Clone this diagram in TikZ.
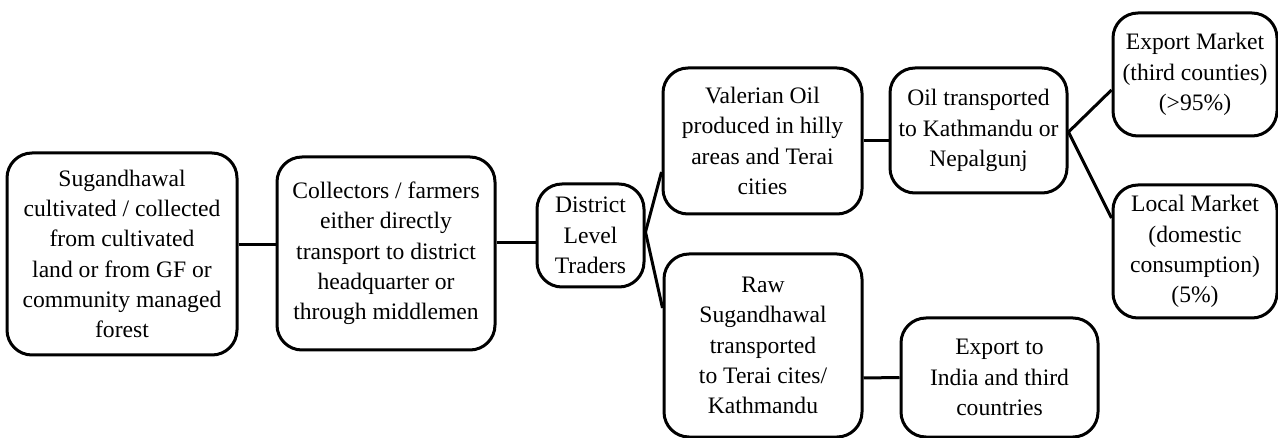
\documentclass[tikz,border=0pt]{standalone}
\usepackage{fontspec}
\setmainfont{Liberation Serif}
\begin{document}
\begin{tikzpicture}[x=1pt,y=-1pt,
  box/.style={draw, line width=3pt, rounded corners=25pt, align=center, inner sep=0pt,
    font=\fontsize{23.6}{30.3}\selectfont},
  link/.style={line width=3pt}]
\useasboundingbox (0,0) rectangle (1278,438);
\node[box, minimum width=230pt, minimum height=202pt] (sug) at (122,254)
  {Sugandhawal\\cultivated / collected\\from cultivated\\land or from GF or\\community managed\\forest};
\node[box, minimum width=218pt, minimum height=193pt] (col) at (386,253.5)
  {Collectors / farmers\\either directly\\transport to district\\headquarter or\\through middlemen};
\node[box, minimum width=107pt, minimum height=103pt] (dist) at (590.5,235.5)
  {District\\Level\\Traders};
\node[box, minimum width=199pt, minimum height=146pt] (val) at (762.5,141)
  {Valerian Oil\\produced in hilly\\areas and Terai\\cities};
\node[box, minimum width=198pt, minimum height=183pt] (raw) at (763,345.5)
  {Raw\\Sugandhawal\\transported\\to Terai cites/\\Kathmandu};
\node[box, minimum width=177pt, minimum height=125pt] (oil) at (978.5,130.5)
  {Oil transported\\to Kathmandu or\\Nepalgunj};
\node[box, minimum width=164pt, minimum height=123pt] (exp) at (1195,74.5)
  {Export Market\\(third counties)\\(>95\%)};
\node[box, minimum width=164pt, minimum height=133pt] (loc) at (1195,251.5)
  {Local Market\\(domestic\\consumption)\\(5\%)};
\node[box, minimum width=197pt, minimum height=119pt] (india) at (999.5,377.5)
  {Export to\\India and third\\countries};
\draw[link] ([yshift=9pt]sug.east) -- ([yshift=8.5pt]col.west);
\draw[link] ([yshift=10.5pt]col.east) -- ([yshift=-7.5pt]dist.west);
\draw[link] ([yshift=3.5pt]dist.east) -- ([yshift=-31pt]val.west);
\draw[link] ([yshift=3.5pt]dist.east) -- ([yshift=37.5pt]raw.west);
\draw[link] (val.east) -- ([yshift=-10.5pt]oil.west);
\draw[link] ([yshift=-1.5pt]oil.east) -- ([yshift=-15.5pt]exp.west);
\draw[link] ([yshift=-1.5pt]oil.east) -- ([yshift=33.5pt]loc.west);
\draw[link] ([yshift=-32.5pt]raw.east) -- (india.west);
\end{tikzpicture}
\end{document}
